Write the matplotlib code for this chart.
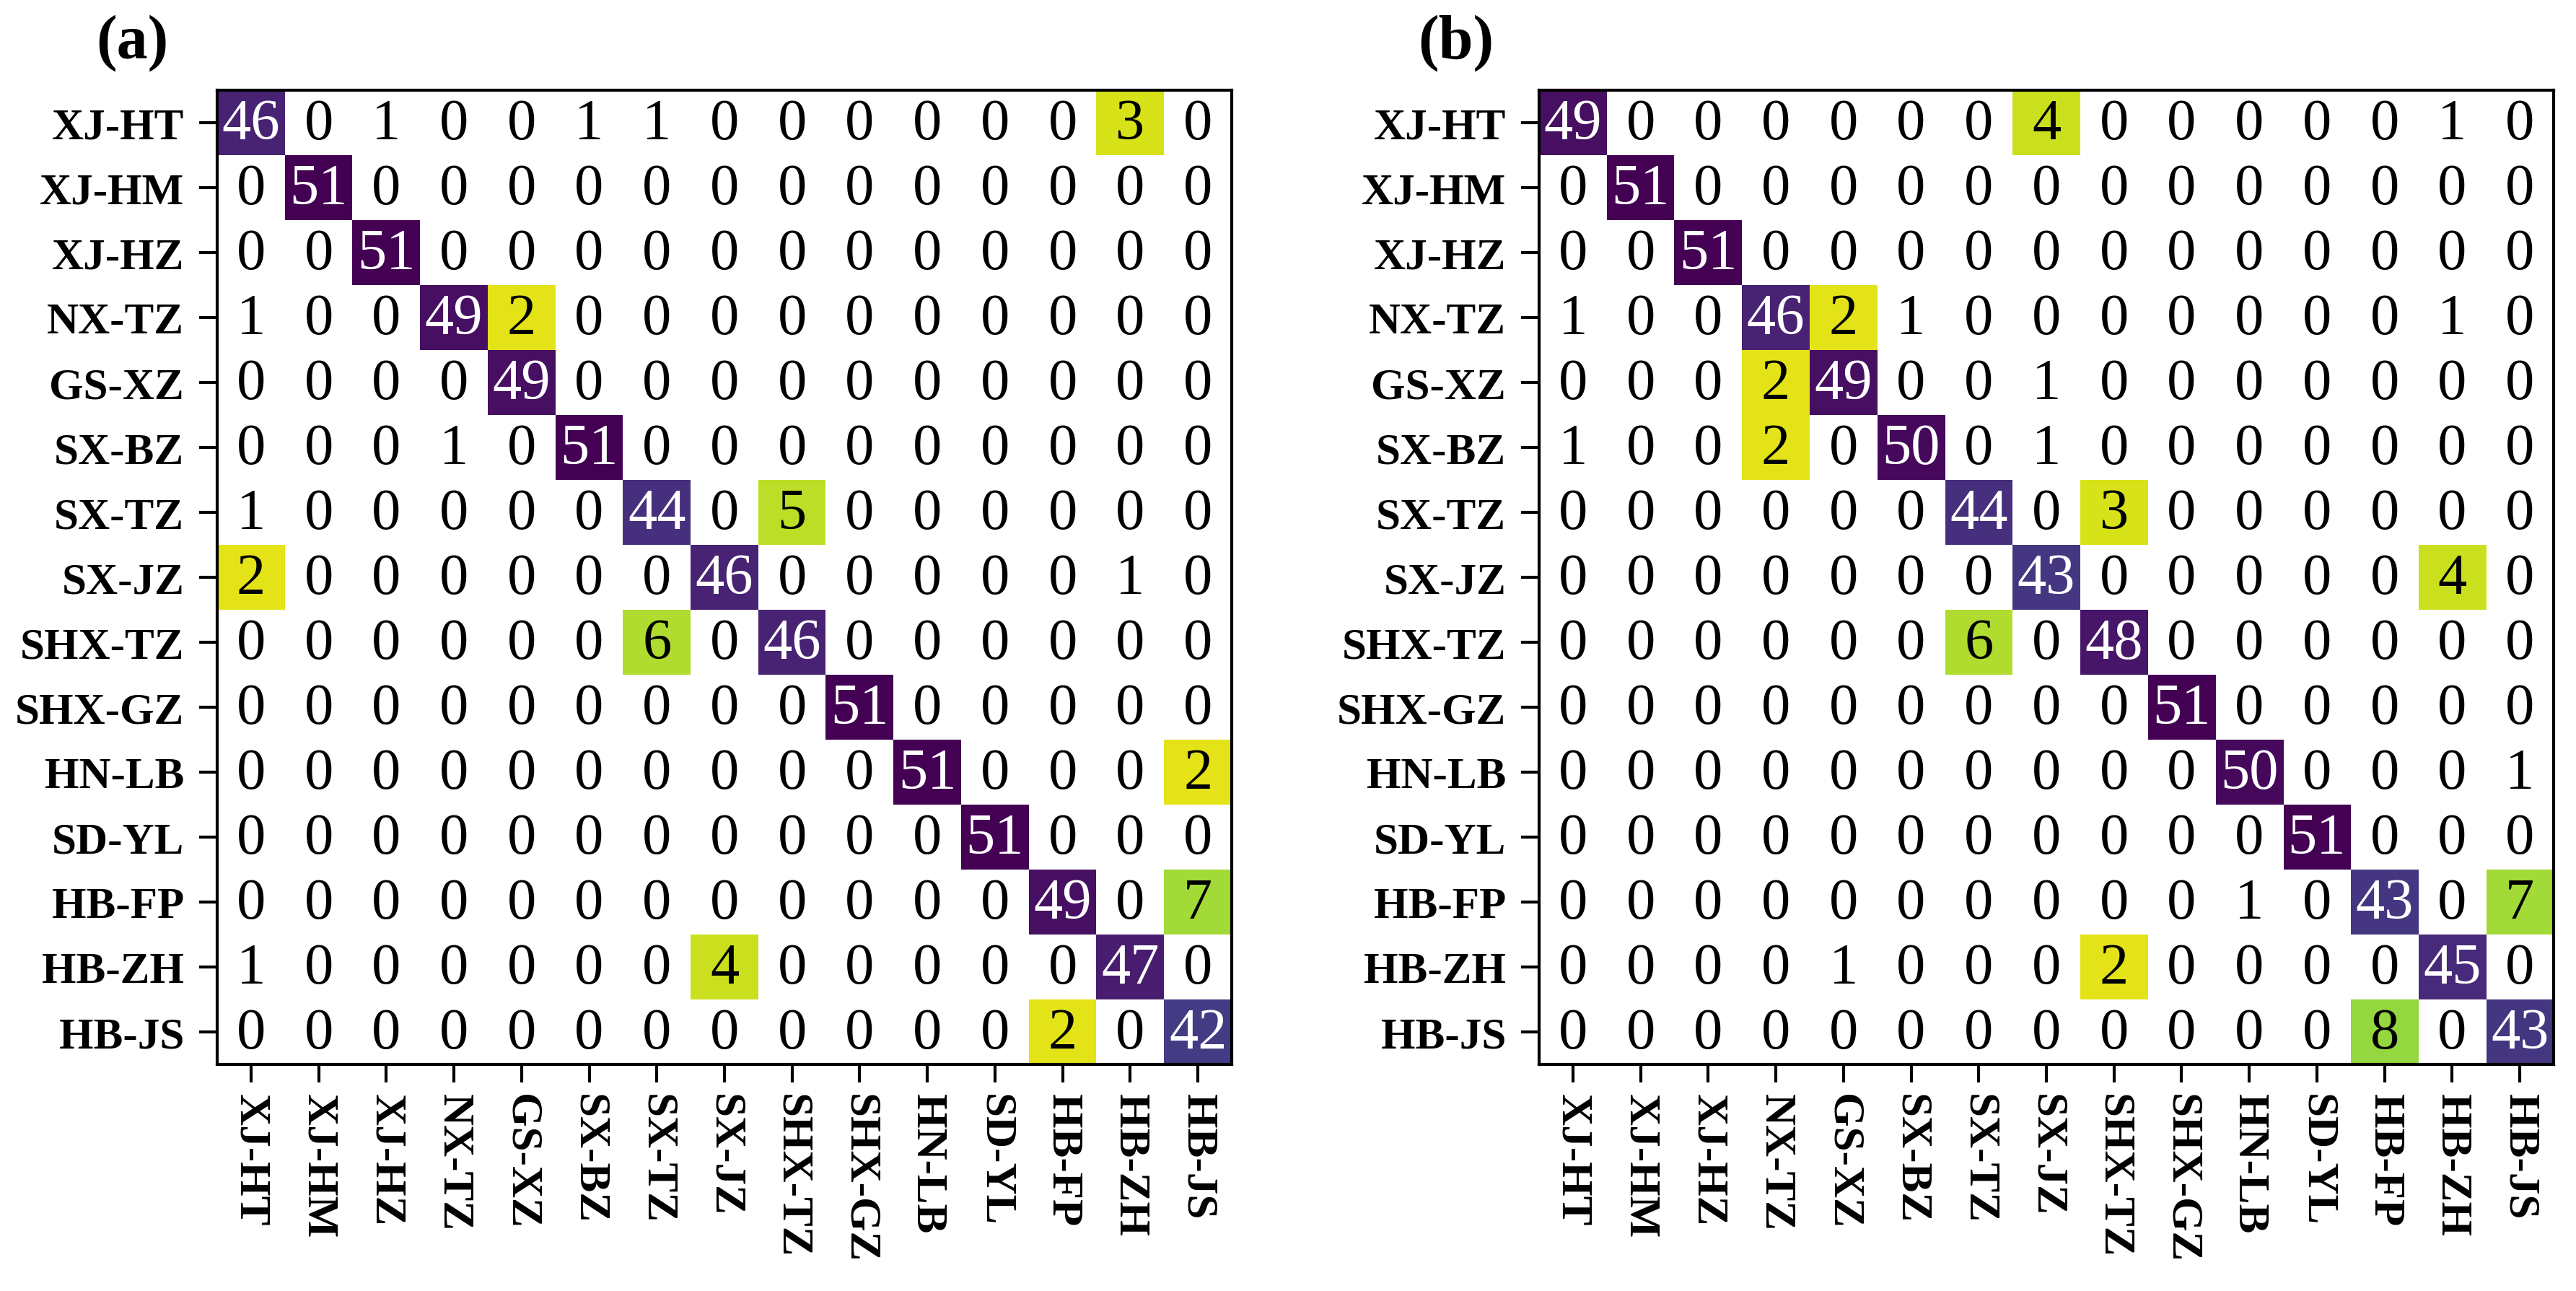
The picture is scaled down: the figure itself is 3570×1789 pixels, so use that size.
import numpy as np
import matplotlib
matplotlib.use("Agg")
import matplotlib.pyplot as plt
from matplotlib.colors import Normalize

classes = ["XJ-HT", "XJ-HM", "XJ-HZ", "NX-TZ", "GS-XZ", "SX-BZ", "SX-TZ", "SX-JZ",
           "SHX-TZ", "SHX-GZ", "HN-LB", "SD-YL", "HB-FP", "HB-ZH", "HB-JS"]

cm_a = [
    [46, 0, 1, 0, 0, 1, 1, 0, 0, 0, 0, 0, 0, 3, 0],
    [0, 51, 0, 0, 0, 0, 0, 0, 0, 0, 0, 0, 0, 0, 0],
    [0, 0, 51, 0, 0, 0, 0, 0, 0, 0, 0, 0, 0, 0, 0],
    [1, 0, 0, 49, 2, 0, 0, 0, 0, 0, 0, 0, 0, 0, 0],
    [0, 0, 0, 0, 49, 0, 0, 0, 0, 0, 0, 0, 0, 0, 0],
    [0, 0, 0, 1, 0, 51, 0, 0, 0, 0, 0, 0, 0, 0, 0],
    [1, 0, 0, 0, 0, 0, 44, 0, 5, 0, 0, 0, 0, 0, 0],
    [2, 0, 0, 0, 0, 0, 0, 46, 0, 0, 0, 0, 0, 1, 0],
    [0, 0, 0, 0, 0, 0, 6, 0, 46, 0, 0, 0, 0, 0, 0],
    [0, 0, 0, 0, 0, 0, 0, 0, 0, 51, 0, 0, 0, 0, 0],
    [0, 0, 0, 0, 0, 0, 0, 0, 0, 0, 51, 0, 0, 0, 2],
    [0, 0, 0, 0, 0, 0, 0, 0, 0, 0, 0, 51, 0, 0, 0],
    [0, 0, 0, 0, 0, 0, 0, 0, 0, 0, 0, 0, 49, 0, 7],
    [1, 0, 0, 0, 0, 0, 0, 4, 0, 0, 0, 0, 0, 47, 0],
    [0, 0, 0, 0, 0, 0, 0, 0, 0, 0, 0, 0, 2, 0, 42],
]

cm_b = [
    [49, 0, 0, 0, 0, 0, 0, 4, 0, 0, 0, 0, 0, 1, 0],
    [0, 51, 0, 0, 0, 0, 0, 0, 0, 0, 0, 0, 0, 0, 0],
    [0, 0, 51, 0, 0, 0, 0, 0, 0, 0, 0, 0, 0, 0, 0],
    [1, 0, 0, 46, 2, 1, 0, 0, 0, 0, 0, 0, 0, 1, 0],
    [0, 0, 0, 2, 49, 0, 0, 1, 0, 0, 0, 0, 0, 0, 0],
    [1, 0, 0, 2, 0, 50, 0, 1, 0, 0, 0, 0, 0, 0, 0],
    [0, 0, 0, 0, 0, 0, 44, 0, 3, 0, 0, 0, 0, 0, 0],
    [0, 0, 0, 0, 0, 0, 0, 43, 0, 0, 0, 0, 0, 4, 0],
    [0, 0, 0, 0, 0, 0, 6, 0, 48, 0, 0, 0, 0, 0, 0],
    [0, 0, 0, 0, 0, 0, 0, 0, 0, 51, 0, 0, 0, 0, 0],
    [0, 0, 0, 0, 0, 0, 0, 0, 0, 0, 50, 0, 0, 0, 1],
    [0, 0, 0, 0, 0, 0, 0, 0, 0, 0, 0, 51, 0, 0, 0],
    [0, 0, 0, 0, 0, 0, 0, 0, 0, 0, 1, 0, 43, 0, 7],
    [0, 0, 0, 0, 1, 0, 0, 0, 2, 0, 0, 0, 0, 45, 0],
    [0, 0, 0, 0, 0, 0, 0, 0, 0, 0, 0, 0, 8, 0, 43],
]

panel_labels = ["(a)", "(b)"]

W, H = 3570, 1790
fig = plt.figure(figsize=(W / 100, H / 100), dpi=100)

serif = ["Liberation Serif", "DejaVu Serif"]
cmap = plt.get_cmap("viridis_r").copy()
cmap.set_bad("white")
norm = Normalize(vmin=0, vmax=51)

ax_left_px = [301, 2133]
ax_w_px, ax_top_px, ax_bot_px = 1406, 126, 1476

for k, (cm, lab) in enumerate(zip([cm_a, cm_b], panel_labels)):
    data = np.array(cm, dtype=float)
    left = ax_left_px[k] / W
    bottom = 1 - ax_bot_px / H
    ax = fig.add_axes([left, bottom, ax_w_px / W, (ax_bot_px - ax_top_px) / H])
    masked = np.ma.masked_where(data < 2, data)
    ax.imshow(masked, cmap=cmap, norm=norm, aspect="auto", interpolation="nearest")
    n = len(classes)
    for i in range(n):
        for j in range(n):
            v = int(data[i, j])
            color = "white" if v >= 20 else "black"
            ax.text(j, i + 0.03, str(v), ha="center", va="center", color=color,
                    fontsize=58, family=serif)
    ax.set_xticks(range(n))
    ax.set_yticks(range(n))
    ax.set_xticklabels(classes, rotation=-90, fontsize=44, fontweight="bold", family=serif)
    ax.set_yticklabels(classes, fontsize=44, fontweight="bold", family=serif)
    ax.tick_params(axis="both", length=18, width=3)
    ax.tick_params(axis="y", pad=15)
    ax.tick_params(axis="x", pad=11)
    for s in ax.spines.values():
        s.set_linewidth(3)
    fig.text((ax_left_px[k] - 168) / W, 1 - 60 / H, lab, ha="left", va="center",
             fontsize=62, fontweight="bold", family=serif)

fig.savefig("out.png", dpi=100)
